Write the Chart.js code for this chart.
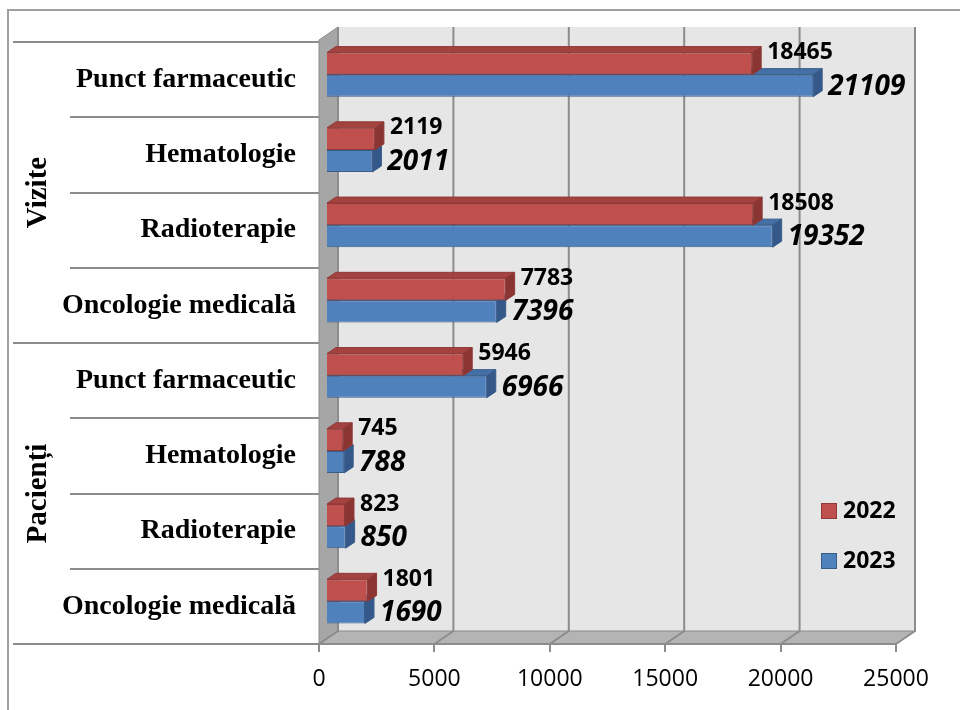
<!DOCTYPE html>
<html>
<head>
<meta charset="utf-8">
<script src="https://cdn.jsdelivr.net/npm/chart.js@4.4.0/dist/chart.umd.min.js"></script>
<style>
  body { margin: 0; background: #fff; }
  canvas { display: block; }
</style>
</head>
<body>
<canvas id="serviciiChart" width="960" height="710"></canvas>
<script>
const categorii = ['Punct farmaceutic', 'Hematologie', 'Radioterapie', 'Oncologie medicală',
                   'Punct farmaceutic', 'Hematologie', 'Radioterapie', 'Oncologie medicală'];
const grupe = ['Vizite', 'Pacienți'];
const ani = ['2022', '2023'];
const valori2022 = [18465, 2119, 18508, 7783, 5946, 745, 823, 1801];
const valori2023 = [21109, 2011, 19352, 7396, 6966, 788, 850, 1690];
const ticksX = [0, 5000, 10000, 15000, 20000, 25000];

const culori = [
    { fata: '#C0504D', bord: '#8E3A38', sus: '#A3423F', lat: '#8B3533' },
    { fata: '#4F81BD', bord: '#385D8A', sus: '#4470A6', lat: '#35588A' }
];

const DX = 19, DY = -13;   // adancimea peretilor
const BX = 7, BY = -5;     // barele stau putin spre spate
const BD = 9, BDY = -6;    // grosimea 3D a barelor
const gri = '#8C8C8C';

function poly(ctx, pts, fill, stroke) {
    ctx.beginPath();
    ctx.moveTo(pts[0][0], pts[0][1]);
    for (let i = 1; i < pts.length; i++) ctx.lineTo(pts[i][0], pts[i][1]);
    ctx.closePath();
    ctx.fillStyle = fill;
    ctx.fill();
    if (stroke) { ctx.strokeStyle = stroke; ctx.lineWidth = 1; ctx.stroke(); }
}

const fundal3D = {
    id: 'fundal3D',
    beforeDraw(chart) {
        const ctx = chart.ctx;
        const a = chart.chartArea;
        const xs = chart.scales.x;
        const L = a.left, R = a.right, T = a.top - 2, B = a.bottom;
        ctx.save();
        // chenar exterior
        ctx.strokeStyle = '#A0A0A0';
        ctx.lineWidth = 2;
        ctx.beginPath();
        ctx.moveTo(8, 710); ctx.lineTo(8, 10); ctx.lineTo(960, 10);
        ctx.stroke();
        // peretele din spate
        poly(ctx, [[L + DX, T + DY], [R + DX, T + DY], [R + DX, B + DY], [L + DX, B + DY]], '#E6E6E6');
        // peretele stang
        poly(ctx, [[L, T], [L + DX, T + DY], [L + DX, B + DY], [L, B]], '#A6A6A6', gri);
        // podeaua
        poly(ctx, [[L, B], [L + DX, B + DY], [R + DX, B + DY], [R, B]], '#B4B4B4', gri);
        // liniile de grila
        ctx.strokeStyle = gri;
        ctx.lineWidth = 2;
        ticksX.forEach(v => {
            const x = xs.getPixelForValue(v);
            ctx.beginPath();
            ctx.moveTo(x + DX, T + DY); ctx.lineTo(x + DX, B + DY);
            ctx.lineTo(x, B);
            ctx.stroke();
        });
        // separatoare categorii si grupe
        const n = categorii.length;
        const pas = (a.bottom - a.top) / n;
        for (let i = 0; i <= n; i++) {
            const y = Math.round(a.top + i * pas);
            const x0 = (i % 4 === 0) ? 13 : 70;
            ctx.beginPath();
            ctx.moveTo(x0, y); ctx.lineTo(L, y);
            ctx.stroke();
        }
        // etichete grupe
        ctx.fillStyle = '#000';
        ctx.font = 'bold 29px "Liberation Serif"';
        ctx.textAlign = 'center';
        ctx.textBaseline = 'middle';
        grupe.forEach((g, k) => {
            const yc = a.top + (k * 4 + 2) * pas;
            ctx.save();
            ctx.translate(39, yc);
            ctx.rotate(-Math.PI / 2);
            ctx.fillText(g, 0, 0);
            ctx.restore();
        });
        ctx.restore();
    },
    beforeDatasetDraw(chart) {
        chart.ctx.save();
        chart.ctx.translate(BX, BY);
    },
    afterDatasetDraw(chart, args) {
        const ctx = chart.ctx;
        const c = culori[args.index];
        args.meta.data.forEach(el => {
            const p = el.getProps(['x', 'y', 'base', 'height'], true);
            const y0 = p.y - p.height / 2, y1 = p.y + p.height / 2;
            poly(ctx, [[p.base, y0], [p.x, y0], [p.x + BD, y0 + BDY], [p.base + BD, y0 + BDY]], c.sus, c.bord);
            poly(ctx, [[p.x, y0], [p.x + BD, y0 + BDY], [p.x + BD, y1 + BDY], [p.x, y1]], c.lat, c.bord);
        });
        ctx.restore();
    },
    afterDatasetsDraw(chart) {
        const ctx = chart.ctx;
        ctx.save();
        ctx.fillStyle = '#000';
        ctx.textAlign = 'left';
        ctx.textBaseline = 'middle';
        chart.data.datasets.forEach((ds, i) => {
            const meta = chart.getDatasetMeta(i);
            ctx.font = i === 0 ? 'bold 23px "Open Sans"' : 'italic bold 28px "Open Sans"';
            meta.data.forEach((el, j) => {
                const p = el.getProps(['x', 'y', 'height'], true);
                const ty = i === 0 ? p.y - p.height / 2 : p.y + 1;
                ctx.fillText(String(ds.data[j]), p.x + BX + 15, ty + BY);
            });
        });
        ctx.restore();
    },
    afterDraw(chart) {
        // legenda in interiorul graficului
        const ctx = chart.ctx;
        ctx.save();
        ctx.font = 'bold 23px "Open Sans"';
        ctx.textBaseline = 'middle';
        ctx.textAlign = 'left';
        chart.data.datasets.forEach((ds, i) => {
            const y = 503 + i * 50;
            ctx.fillStyle = culori[i].fata;
            ctx.fillRect(821, y, 15, 15);
            ctx.strokeStyle = culori[i].bord;
            ctx.lineWidth = 1;
            ctx.strokeRect(821.5, y + 0.5, 15, 15);
            ctx.fillStyle = '#000';
            ctx.fillText(ds.label, 843, y + 8);
        });
        ctx.restore();
    }
};

const ctx = document.getElementById('serviciiChart').getContext('2d');
const serviciiChart = new Chart(ctx, {
    type: 'bar',
    data: {
        labels: categorii,
        datasets: [{
            label: ani[0],
            data: valori2022,
            backgroundColor: culori[0].fata,
            borderColor: culori[0].bord,
            borderWidth: 1,
            clip: false
        }, {
            label: ani[1],
            data: valori2023,
            backgroundColor: culori[1].fata,
            borderColor: culori[1].bord,
            borderWidth: 1,
            clip: false
        }]
    },
    options: {
        indexAxis: 'y',
        responsive: false,
        animation: false,
        categoryPercentage: 0.586,
        barPercentage: 1,
        layout: { padding: { left: 0, top: 42, right: 64, bottom: 0 } },
        plugins: {
            legend: { display: false },
            tooltip: { enabled: false }
        },
        scales: {
            x: {
                min: 0,
                max: 25000,
                afterFit: s => { s.height = 66; },
                afterBuildTicks: s => { s.ticks = ticksX.map(v => ({ value: v })); },
                grid: { drawOnChartArea: false, drawTicks: true, tickLength: 8, color: gri, lineWidth: 2 },
                border: { display: true, color: gri, width: 2 },
                ticks: {
                    color: '#000',
                    padding: 14,
                    font: { family: 'Open Sans', size: 23 },
                    callback: v => String(v)
                }
            },
            y: {
                afterFit: s => { s.width = 319; },
                grid: { display: false, drawTicks: false },
                border: { display: false },
                ticks: {
                    color: '#000',
                    padding: 23,
                    font: { family: 'Liberation Serif', size: 28, weight: 'bold' }
                }
            }
        }
    },
    plugins: [fundal3D]
});
</script>
</body>
</html>
